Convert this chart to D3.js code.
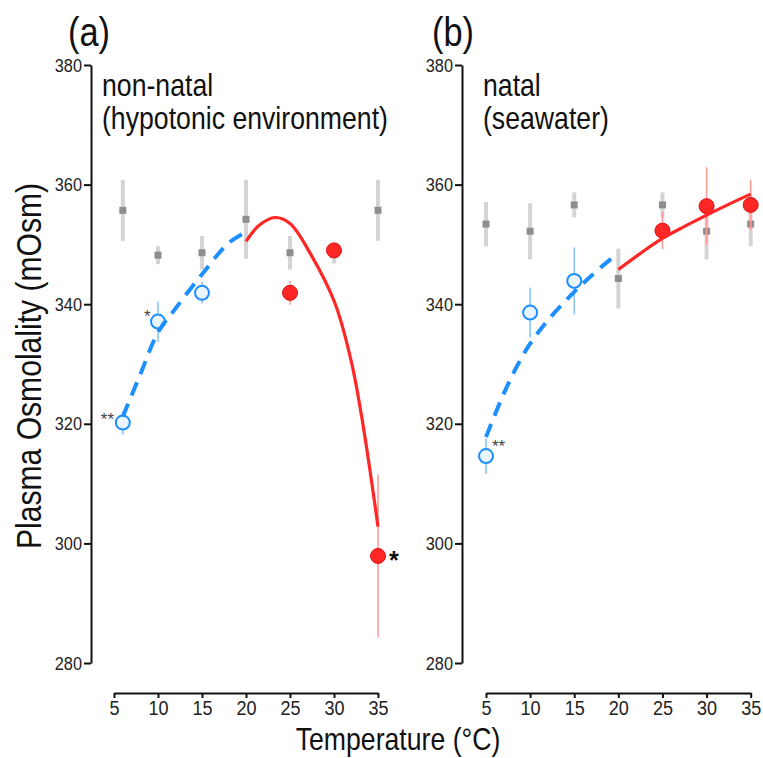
<!DOCTYPE html>
<html>
<head>
<meta charset="utf-8">
<script src="https://cdn.jsdelivr.net/npm/d3@7"></script>
<style>
  body { margin: 0; background: #fff; }
  svg { font-family: "Liberation Sans", Arial, sans-serif; }
</style>
</head>
<body>
<svg id="chart" width="763" height="758"></svg>
<script>
// --- values ---
const temps = [5, 10, 15, 20, 25, 30, 35];
const yTicks = [280, 300, 320, 340, 360, 380];

// panel (a) non-natal
const ctrlTempsA = [6, 10, 15, 20, 25, 30, 35];
const ctrlA = [355.7, 348.2, 348.6, 354.2, 348.6, 348.3, 355.7];
const ctrlErrA = [5.1, 1.5, 2.8, 6.6, 2.8, 1.5, 5.1];
const lowTempsA = [6, 10, 15];
const lowA = [320.2, 337.1, 341.9];
const lowErrA = [2.0, 3.4, 1.8];
const highTempsA = [25, 30, 35];
const highA = [341.9, 349.0, 297.9];
const highErrA = [2.0, 1.0, 13.6];
const fitLowXA = [6, 8, 10, 12, 15, 18, 20];
const fitLowYA = [321.2, 328.3, 335.3, 339.3, 345.0, 350.2, 352.1];
const fitHighXA = [20, 21.5, 23.3, 25, 27.3, 30.1, 32, 33.3, 35];
const fitHighYA = [350.5, 353.2, 354.5, 353.5, 348.5, 340.2, 330.2, 319.8, 302.8];

// panel (b) natal
const ctrlTempsB = [5, 10, 15, 20, 25, 30, 35];
const ctrlB = [353.4, 352.2, 356.6, 344.3, 356.6, 352.2, 353.4];
const ctrlErrB = [3.7, 4.7, 2.1, 5.0, 2.1, 4.7, 3.7];
const lowTempsB = [5, 10, 15];
const lowB = [314.6, 338.6, 343.9];
const lowErrB = [3.0, 4.2, 5.6];
const highTempsB = [25, 30, 35];
const highB = [352.3, 356.4, 356.6];
const highErrB = [3.1, 6.5, 4.2];
const fitLowXB = [5, 7, 8.5, 10, 12, 14.5, 16.6, 19.1, 20];
const fitLowYB = [317.8, 325.0, 329.6, 333.4, 337.3, 341.3, 344.3, 347.5, 348.5];
const fitHighXB = [20, 22.5, 25, 27.5, 30, 32.5, 35];
const fitHighYB = [345.8, 348.5, 351.0, 353.0, 354.9, 356.7, 358.4];

const blue = '#1e8fff', blueBar = '#8cc6ff', blueFill = '#eaf5ff';
const red = '#ff2626', redBar = '#ff9a9a', redEdge = '#e01010';
const grey = '#8e8e8e', greyBar = '#d4d4d4';

// the original uses a narrow sans; squeeze Liberation Sans horizontally
const narrow = 0.86;
function condense(sel) {
    sel.each(function () {
        const t = d3.select(this);
        const x = +(t.attr('x') || 0);
        const tr = t.attr('transform') || '';
        t.attr('x', x / narrow).attr('transform', `${tr} scale(${narrow},1)`);
    });
}

const svg = d3.select('#chart');

const y = d3.scaleLinear().domain([280, 380]).range([663, 65]);

const zip = (xs, ys, es) => xs.map((t, i) => ({t: t, v: ys[i], e: es ? es[i] : 0}));

const panels = [
    {
        axisX: 91, x0: 114, x1: 378, letter: '(a)', letterX: 68,
        lines: ['non-natal', '(hypotonic environment)'], textX: 102,
        ctrl: zip(ctrlTempsA, ctrlA, ctrlErrA),
        low: zip(lowTempsA, lowA, lowErrA),
        high: zip(highTempsA, highA, highErrA),
        fitLow: zip(fitLowXA, fitLowYA),
        fitHigh: zip(fitHighXA, fitHighYA),
        stars: [
            {t: 6, v: 320.2, dx: -22, dy: 2, s: '**', size: 17, w: 'normal', c: '#444'},
            {t: 10, v: 337.1, dx: -14, dy: 0, s: '*', size: 17, w: 'normal', c: '#444'},
            {t: 35, v: 297.9, dx: 11, dy: 13, s: '*', size: 25, w: 'bold', c: '#111'}
        ]
    },
    {
        axisX: 462, x0: 486, x1: 750.7, letter: '(b)', letterX: 432,
        lines: ['natal', '(seawater)'], textX: 483,
        ctrl: zip(ctrlTempsB, ctrlB, ctrlErrB),
        low: zip(lowTempsB, lowB, lowErrB),
        high: zip(highTempsB, highB, highErrB),
        fitLow: zip(fitLowXB, fitLowYB),
        fitHigh: zip(fitHighXB, fitHighYB),
        stars: [
            {t: 5, v: 314.6, dx: 6, dy: -4, s: '**', size: 17, w: 'normal', c: '#444'}
        ]
    }
];

panels.forEach(p => {
    const x = d3.scaleLinear().domain([5, 35]).range([p.x0, p.x1]);
    const g = svg.append('g');

    // y axis
    const ya = g.append('g')
        .attr('transform', `translate(${p.axisX},0)`)
        .call(d3.axisLeft(y).tickValues(yTicks).tickSize(7).tickSizeOuter(0).tickPadding(2));
    ya.selectAll('path, line').attr('stroke', '#111').attr('stroke-width', 2);
    ya.selectAll('text').attr('font-size', 19).attr('fill', '#222').attr('font-family', null)
        .call(condense);

    // x axis
    const xa = g.append('g')
        .attr('transform', 'translate(0,693)')
        .call(d3.axisBottom(x).tickValues(temps).tickSize(5).tickSizeOuter(0).tickPadding(2));
    xa.selectAll('path, line').attr('stroke', '#111').attr('stroke-width', 2);
    xa.selectAll('text').attr('font-size', 21).attr('fill', '#222').attr('font-family', null)
        .call(condense);

    // panel letter and caption
    g.append('text').attr('x', p.letterX).attr('y', 46)
        .attr('font-size', 40).attr('fill', '#111').text(p.letter).call(condense);
    p.lines.forEach((s, i) => {
        g.append('text').attr('x', p.textX).attr('y', 96 + i * 33)
            .attr('font-size', 31).attr('fill', '#111').text(s).call(condense);
    });

    // control group (grey)
    g.selectAll('.cbar').data(p.ctrl).join('line')
        .attr('x1', d => x(d.t)).attr('x2', d => x(d.t))
        .attr('y1', d => y(d.v - d.e)).attr('y2', d => y(d.v + d.e))
        .attr('stroke', greyBar).attr('stroke-width', 4);
    g.selectAll('.csq').data(p.ctrl).join('rect')
        .attr('x', d => x(d.t) - 3.5).attr('y', d => y(d.v) - 3.5)
        .attr('width', 7).attr('height', 7).attr('fill', grey);

    // error bars
    g.selectAll('.lbar').data(p.low).join('line')
        .attr('x1', d => x(d.t)).attr('x2', d => x(d.t))
        .attr('y1', d => y(d.v - d.e)).attr('y2', d => y(d.v + d.e))
        .attr('stroke', blueBar).attr('stroke-width', 1.6);
    g.selectAll('.hbar').data(p.high).join('line')
        .attr('x1', d => x(d.t)).attr('x2', d => x(d.t))
        .attr('y1', d => y(d.v - d.e)).attr('y2', d => y(d.v + d.e))
        .attr('stroke', redBar).attr('stroke-width', 1.6);

    // points
    g.selectAll('.lpt').data(p.low).join('circle')
        .attr('cx', d => x(d.t)).attr('cy', d => y(d.v)).attr('r', 7)
        .attr('fill', blueFill).attr('stroke', blue).attr('stroke-width', 2);
    g.selectAll('.hpt').data(p.high).join('circle')
        .attr('cx', d => x(d.t)).attr('cy', d => y(d.v)).attr('r', 7.5)
        .attr('fill', red).attr('stroke', redEdge).attr('stroke-width', 1);

    // fitted curves
    const line = d3.line().x(d => x(d.t)).y(d => y(d.v)).curve(d3.curveCatmullRom.alpha(0.5));
    g.append('path').datum(p.fitLow).attr('d', line)
        .attr('fill', 'none').attr('stroke', blue).attr('stroke-width', 4)
        .attr('stroke-dasharray', '14,9');
    g.append('path').datum(p.fitHigh).attr('d', line)
        .attr('fill', 'none').attr('stroke', red).attr('stroke-width', 3.2);

    // significance marks
    p.stars.forEach(s => {
        g.append('text').attr('x', x(s.t) + s.dx).attr('y', y(s.v) + s.dy)
            .attr('font-size', s.size).attr('font-weight', s.w).attr('fill', s.c).text(s.s);
    });
});

// shared axis titles
svg.append('text').attr('transform', 'translate(41,366) rotate(-90)')
    .attr('text-anchor', 'middle').attr('font-size', 35).attr('fill', '#111')
    .text('Plasma Osmolality (mOsm)').call(condense);
svg.append('text').attr('x', 398).attr('y', 750)
    .attr('text-anchor', 'middle').attr('font-size', 31).attr('fill', '#111')
    .text('Temperature (°C)').call(condense);
</script>
</body>
</html>
